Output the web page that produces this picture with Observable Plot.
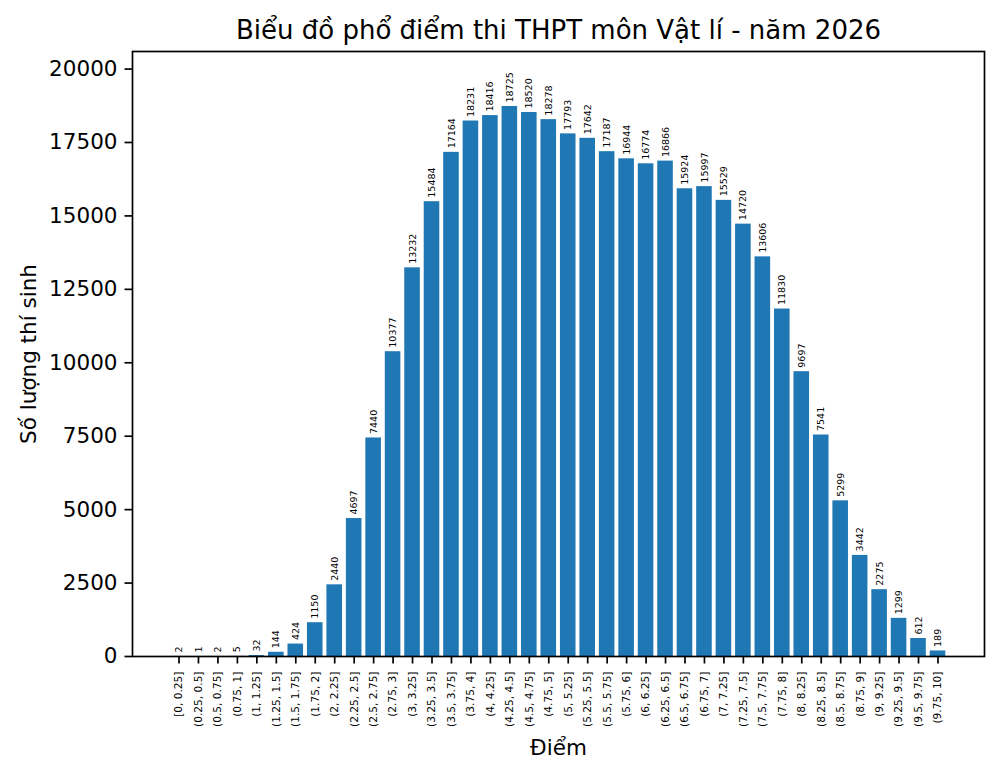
<!DOCTYPE html>
<html>
<head>
<meta charset="utf-8">
<script src="https://cdn.jsdelivr.net/npm/d3@7"></script>
<script src="https://cdn.jsdelivr.net/npm/@observablehq/plot@0.6"></script>
<style>
  html, body { margin: 0; padding: 0; background: #fff; }
  #chart svg { display: block; font-family: "DejaVu Sans", sans-serif; }
</style>
</head>
<body>
<div id="chart"></div>
<script>
const categories = [
  "[0, 0.25]", "(0.25, 0.5]", "(0.5, 0.75]", "(0.75, 1]",
  "(1, 1.25]", "(1.25, 1.5]", "(1.5, 1.75]", "(1.75, 2]",
  "(2, 2.25]", "(2.25, 2.5]", "(2.5, 2.75]", "(2.75, 3]",
  "(3, 3.25]", "(3.25, 3.5]", "(3.5, 3.75]", "(3.75, 4]",
  "(4, 4.25]", "(4.25, 4.5]", "(4.5, 4.75]", "(4.75, 5]",
  "(5, 5.25]", "(5.25, 5.5]", "(5.5, 5.75]", "(5.75, 6]",
  "(6, 6.25]", "(6.25, 6.5]", "(6.5, 6.75]", "(6.75, 7]",
  "(7, 7.25]", "(7.25, 7.5]", "(7.5, 7.75]", "(7.75, 8]",
  "(8, 8.25]", "(8.25, 8.5]", "(8.5, 8.75]", "(8.75, 9]",
  "(9, 9.25]", "(9.25, 9.5]", "(9.5, 9.75]", "(9.75, 10]"
];
const counts = [
  2, 1, 2, 5, 32, 144, 424, 1150, 2440, 4697,
  7440, 10377, 13232, 15484, 17164, 18231, 18416, 18725, 18520, 18278,
  17793, 17642, 17187, 16944, 16774, 16866, 15924, 15997, 15529, 14720,
  13606, 11830, 9697, 7541, 5299, 3442, 2275, 1299, 612, 189
];
const yTicks = [0, 2500, 5000, 7500, 10000, 12500, 15000, 17500, 20000];
const titleText = "Biểu đồ phổ điểm thi THPT môn Vật lí - năm 2026";
const xLabel = "Điểm";
const yLabel = "Số lượng thí sinh";

const data = categories.map((c, i) => ({bin: c, count: counts[i]}));
const yMax = d3.max(counts) * 1.1;

const chart = Plot.plot({
  width: 1000,
  height: 774,
  marginTop: 51,
  marginLeft: 132,
  marginRight: 16,
  marginBottom: 118,
  style: {fontFamily: "DejaVu Sans, sans-serif", background: "#fff", color: "#000"},
  x: {type: "band", domain: categories, paddingInner: 0.2, paddingOuter: 1.99, align: 0.5, round: false},
  y: {domain: [0, yMax]},
  marks: [
    Plot.barY(data, {x: "bin", y: "count", fill: "#1f77b4"}),
    Plot.text(data, {
      x: "bin", y: "count", text: d => String(d.count),
      rotate: -90, textAnchor: "start", lineAnchor: "middle",
      dy: -4, fontSize: 9.5, fill: "#000"
    }),
    Plot.axisX({
      tickRotate: -90, fontSize: 10.6, tickSize: 7.5, tickPadding: 7.5,
      strokeWidth: 1.7, label: null, fill: "#000"
    }),
    Plot.axisY({
      ticks: yTicks, tickFormat: d3.format("d"), fontSize: 21.5,
      tickSize: 7.5, tickPadding: 7.5, strokeWidth: 1.7, label: null, fill: "#000"
    }),
    Plot.frame({stroke: "#000", strokeWidth: 1.7}),
    Plot.text([titleText], {
      text: d => d, frameAnchor: "top", textAnchor: "middle", lineAnchor: "bottom",
      dy: -13, fontSize: 26, fill: "#000"
    }),
    Plot.text([xLabel], {
      text: d => d, frameAnchor: "bottom", textAnchor: "middle", lineAnchor: "bottom",
      dy: 98, fontSize: 21.5, fill: "#000"
    }),
    Plot.text([yLabel], {
      text: d => d, frameAnchor: "left", rotate: -90, textAnchor: "middle", lineAnchor: "bottom",
      dx: -97, fontSize: 21.5, fill: "#000"
    })
  ]
});
document.getElementById("chart").appendChild(chart);
</script>
</body>
</html>
